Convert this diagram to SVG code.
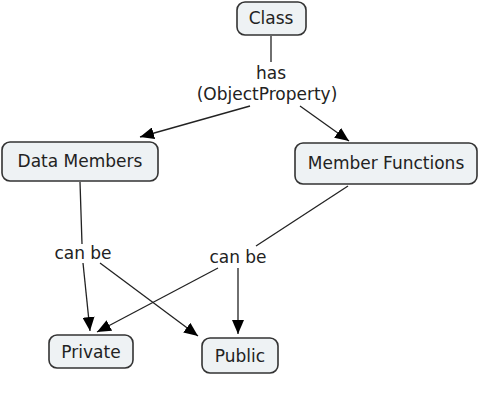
<svg xmlns="http://www.w3.org/2000/svg" width="481" height="412" viewBox="0 0 481 412">
<style>
.node rect{fill:#eef2f4;stroke:#333;stroke-width:1.6}
text{font-family:"DejaVu Sans",Verdana,sans-serif;font-size:17px;fill:#222;text-anchor:middle}
.conn line{stroke:#222;stroke-width:1.3}
</style>
<defs>
<marker id="arr" viewBox="0 0 14 12" refX="14" refY="6" markerWidth="14" markerHeight="12" markerUnits="userSpaceOnUse" orient="auto">
<path d="M0,0 L14,6 L0,12 z" fill="#000"/>
</marker>
</defs>
<rect width="481" height="412" fill="#fff"/>
<g class="conn">
<line x1="271" y1="36" x2="271" y2="62"/>
<line x1="250" y1="106" x2="140" y2="137" marker-end="url(#arr)"/>
<line x1="300" y1="106" x2="349" y2="141" marker-end="url(#arr)"/>
<line x1="80" y1="182" x2="82" y2="244"/>
<line x1="83" y1="263" x2="90" y2="331" marker-end="url(#arr)"/>
<line x1="100" y1="263" x2="198" y2="336" marker-end="url(#arr)"/>
<line x1="348" y1="186" x2="256" y2="246"/>
<line x1="218" y1="268" x2="97" y2="332" marker-end="url(#arr)"/>
<line x1="238" y1="268" x2="238" y2="334" marker-end="url(#arr)"/>
</g>
<g id="label-has">
<text x="271" y="79">has</text>
<text x="267" y="100">(ObjectProperty)</text>
</g>
<g id="label-canbe1"><text x="83" y="259">can be</text></g>
<g id="label-canbe2"><text x="238" y="263">can be</text></g>
<g id="class" class="node"><rect x="237" y="2" width="69" height="33" rx="8"/><text x="271" y="24">Class</text></g>
<g id="data-members" class="node"><rect x="2" y="142" width="156" height="39" rx="8"/><text x="80" y="167">Data Members</text></g>
<g id="member-functions" class="node"><rect x="295" y="143" width="182" height="41" rx="8"/><text x="386" y="169">Member Functions</text></g>
<g id="private" class="node"><rect x="49" y="335" width="84" height="33" rx="8"/><text x="91" y="358">Private</text></g>
<g id="public" class="node"><rect x="202" y="338" width="76" height="35" rx="8"/><text x="240" y="362">Public</text></g>
</svg>
